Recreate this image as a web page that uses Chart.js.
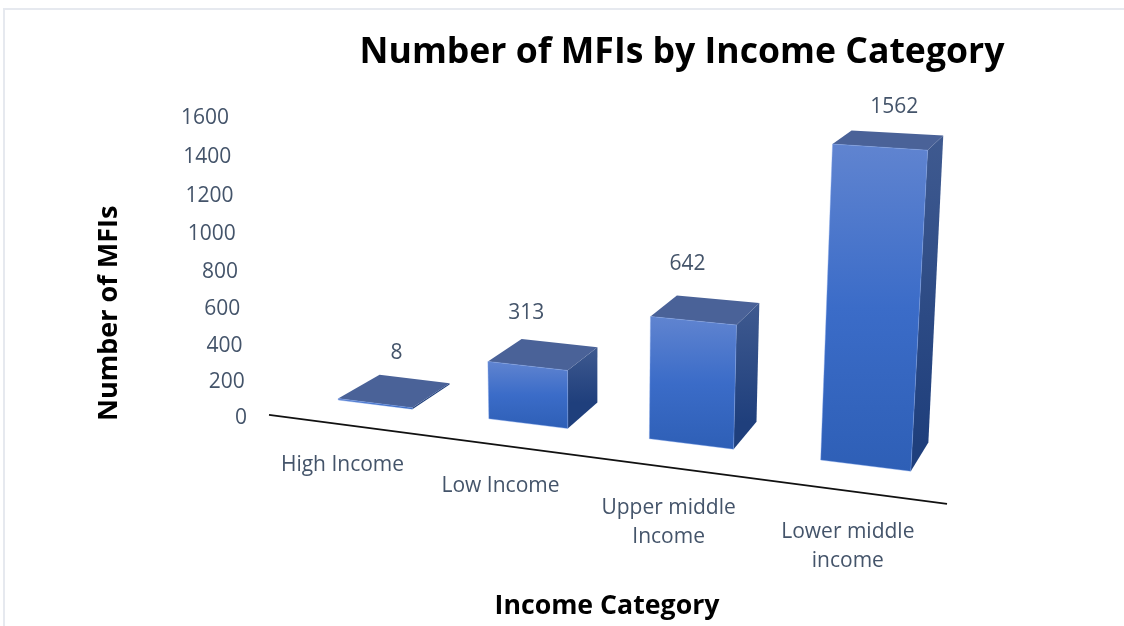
<!DOCTYPE html>
<html>
<head>
<meta charset="utf-8">
<title>Number of MFIs by Income Category</title>
<script src="https://cdn.jsdelivr.net/npm/chart.js@4"></script>
<style>
    body { margin: 0; background: #fff; }
    #frame { position: absolute; left: 3px; top: 8px; width: 1121px; height: 618px; border-left: 2px solid #e6e9ef; border-top: 2px solid #e6e9ef; box-sizing: border-box; }
    #chart { position: absolute; left: 0; top: 0; }
</style>
</head>
<body>
<div id="frame"></div>
<canvas id="chart" width="1124" height="626"></canvas>
<script>
const categories = ['High Income', 'Low Income', ['Upper middle', 'Income'], ['Lower middle', 'income']];
const mfiCounts = [8, 313, 642, 1562];
const yMax = 1600;
const yStep = 200;

const textColor = '#44546a';
const fontFamily = '"Open Sans", sans-serif';

// corners of the front and back walls of the bars: bottom left, bottom right, top right, top left
const frontWall = quadMap([302, 395.5], [957, 477], [977, 145], [288, 102]);
const backWall = quadMap([345.5, 372], [973.5, 448], [991, 130], [336, 97]);
// value labels sit above the middle of each top face
const valueNudge = [[2, -38], [-17, -41], [-18, -46], [6, -33]];

// maps the unit square on to a four cornered shape
function quadMap(p0, p1, p2, p3) {
    const dx1 = p1[0] - p2[0], dx2 = p3[0] - p2[0], sx = p0[0] - p1[0] + p2[0] - p3[0];
    const dy1 = p1[1] - p2[1], dy2 = p3[1] - p2[1], sy = p0[1] - p1[1] + p2[1] - p3[1];
    const den = dx1 * dy2 - dx2 * dy1;
    const g = (sx * dy2 - dx2 * sy) / den;
    const h = (dx1 * sy - sx * dy1) / den;
    const a = p1[0] - p0[0] + g * p1[0], b = p3[0] - p0[0] + h * p3[0];
    const d = p1[1] - p0[1] + g * p1[1], e = p3[1] - p0[1] + h * p3[1];
    return function (u, v) {
        const w = g * u + h * v + 1;
        return [(a * u + b * v + p0[0]) / w, (d * u + e * v + p0[1]) / w];
    };
}

function face(ctx, pts, fill, stroke) {
    ctx.beginPath();
    pts.forEach(function (p, i) {
        if (i === 0) ctx.moveTo(p[0], p[1]);
        else ctx.lineTo(p[0], p[1]);
    });
    ctx.closePath();
    ctx.fillStyle = fill;
    ctx.fill();
    if (stroke) {
        ctx.strokeStyle = stroke;
        ctx.lineWidth = 1;
        ctx.stroke();
    }
}

// y axis of the tilted chart: ticks spread out and lean towards the top
class TiltedScale extends Chart.LinearScale {
    getPixelForValue(value) {
        const t = (value - this.min) / (this.max - this.min);
        return this.bottom - (this.bottom - this.top) * t * (0.95 + 0.05 * t);
    }
    _computeLabelItems(chartArea) {
        const items = super._computeLabelItems(chartArea);
        items.forEach(function (item, i) {
            const tick = this.ticks[i];
            item.options.translation[0] -= 18 * tick.value / this.max;
            item.options.translation[1] += 2;
        }, this);
        return items;
    }
    drawTitle() {
        this.ctx.save();
        this.ctx.translate(0, 5);
        super.drawTitle();
        this.ctx.restore();
    }
}
TiltedScale.id = 'tilted';
TiltedScale.defaults = Chart.LinearScale.defaults;
Chart.register(TiltedScale);

const bars3d = {
    id: 'bars3d',
    afterLayout(chart) {
        // heading is centred over the tilted plot, not over the canvas
        chart.titleBlock.left = 240;
        chart.titleBlock.right = 1124;
    },
    beforeDatasetDraw(chart, args) {
        const ctx = chart.ctx;
        const area = chart.chartArea;
        const uOf = function (x) { return (x - area.left) / (area.right - area.left); };
        // the walls do their own perspective, so take the tick spreading back out
        const vOf = function (y) {
            const v = (area.bottom - y) / (area.bottom - area.top);
            return v / (0.95 + 0.05 * v);
        };

        args.meta.data.forEach(function (bar) {
            const u0 = uOf(bar.x - bar.width / 2), u1 = uOf(bar.x + bar.width / 2);
            const v0 = vOf(bar.base), v1 = vOf(bar.y);
            const fbl = frontWall(u0, v0), fbr = frontWall(u1, v0), ftr = frontWall(u1, v1), ftl = frontWall(u0, v1);
            const bbr = backWall(u1, v0), btr = backWall(u1, v1), btl = backWall(u0, v1);

            const side = ctx.createLinearGradient(0, btr[1], 0, bbr[1]);
            side.addColorStop(0, '#3f5a90');
            side.addColorStop(1, '#1f3f7c');
            face(ctx, [fbr, bbr, btr, ftr], side);

            face(ctx, [ftl, ftr, btr, btl], '#4a6298');

            const front = ctx.createLinearGradient(0, ftl[1], 0, fbr[1]);
            front.addColorStop(0, '#6084d0');
            front.addColorStop(0.5, '#3b6cc8');
            front.addColorStop(1, '#2e5fb6');
            face(ctx, [fbl, fbr, ftr, ftl], front, 'rgba(130,165,235,0.4)');
        });

        // category axis runs downhill from the foot of the y axis
        ctx.save();
        ctx.strokeStyle = '#111';
        ctx.lineWidth = 1.8;
        ctx.beginPath();
        ctx.moveTo(area.left - 1, area.bottom - 1);
        ctx.lineTo(area.right + 3, area.bottom + 88);
        ctx.stroke();

        ctx.fillStyle = textColor;
        ctx.font = '21px ' + fontFamily;
        ctx.textAlign = 'center';
        ctx.textBaseline = 'middle';

        args.meta.data.forEach(function (bar, i) {
            const u = uOf(bar.x);
            const v = vOf(bar.y);
            const foot = frontWall(u, 0);
            const lines = [].concat(chart.data.labels[i]);
            lines.forEach(function (line, n) {
                ctx.fillText(line, foot[0] - 35 + 20 * u, foot[1] + 59.5 + 8 * u + n * 29);
            });

            const f = frontWall(u, v), b = backWall(u, v);
            ctx.fillText(String(chart.data.datasets[0].data[i]),
                (f[0] + b[0]) / 2 + valueNudge[i][0], (f[1] + b[1]) / 2 + valueNudge[i][1]);
        });
        ctx.restore();
        return false;
    }
};

new Chart(document.getElementById('chart'), {
    type: 'bar',
    data: {
        labels: categories,
        datasets: [{ label: 'Number of MFIs', data: mfiCounts, backgroundColor: '#3b6cc8', barPercentage: 0.5, categoryPercentage: 1 }]
    },
    plugins: [bars3d],
    options: {
        responsive: false,
        animation: false,
        layout: { padding: { right: 180, bottom: 0, left: 0, top: 0 } },
        plugins: {
            legend: { display: false },
            tooltip: { enabled: false },
            title: {
                display: true,
                text: 'Number of MFIs by Income Category',
                color: '#000',
                font: { family: fontFamily, size: 35.6, weight: 'bold' },
                padding: { top: 31, bottom: 42 }
            }
        },
        scales: {
            x: {
                grid: { display: false },
                border: { display: false },
                ticks: { display: false },
                title: {
                    display: true,
                    text: 'Income Category',
                    color: '#000',
                    font: { family: fontFamily, size: 26.7, weight: 'bold' },
                    padding: { top: 166, bottom: 4 }
                }
            },
            y: {
                type: 'tilted',
                min: 0,
                max: yMax,
                grid: { display: false, drawTicks: false },
                border: { display: false },
                afterFit: function (scale) { scale.width = 270; },
                ticks: {
                    stepSize: yStep,
                    padding: 23,
                    color: textColor,
                    font: { family: fontFamily, size: 21 },
                    callback: function (value) { return String(value); }
                },
                title: {
                    display: true,
                    text: 'Number of MFIs',
                    align: 'start',
                    color: '#000',
                    font: { family: fontFamily, size: 27, weight: 'bold' },
                    padding: { top: 93, bottom: 0 }
                }
            }
        }
    }
});
</script>
</body>
</html>
